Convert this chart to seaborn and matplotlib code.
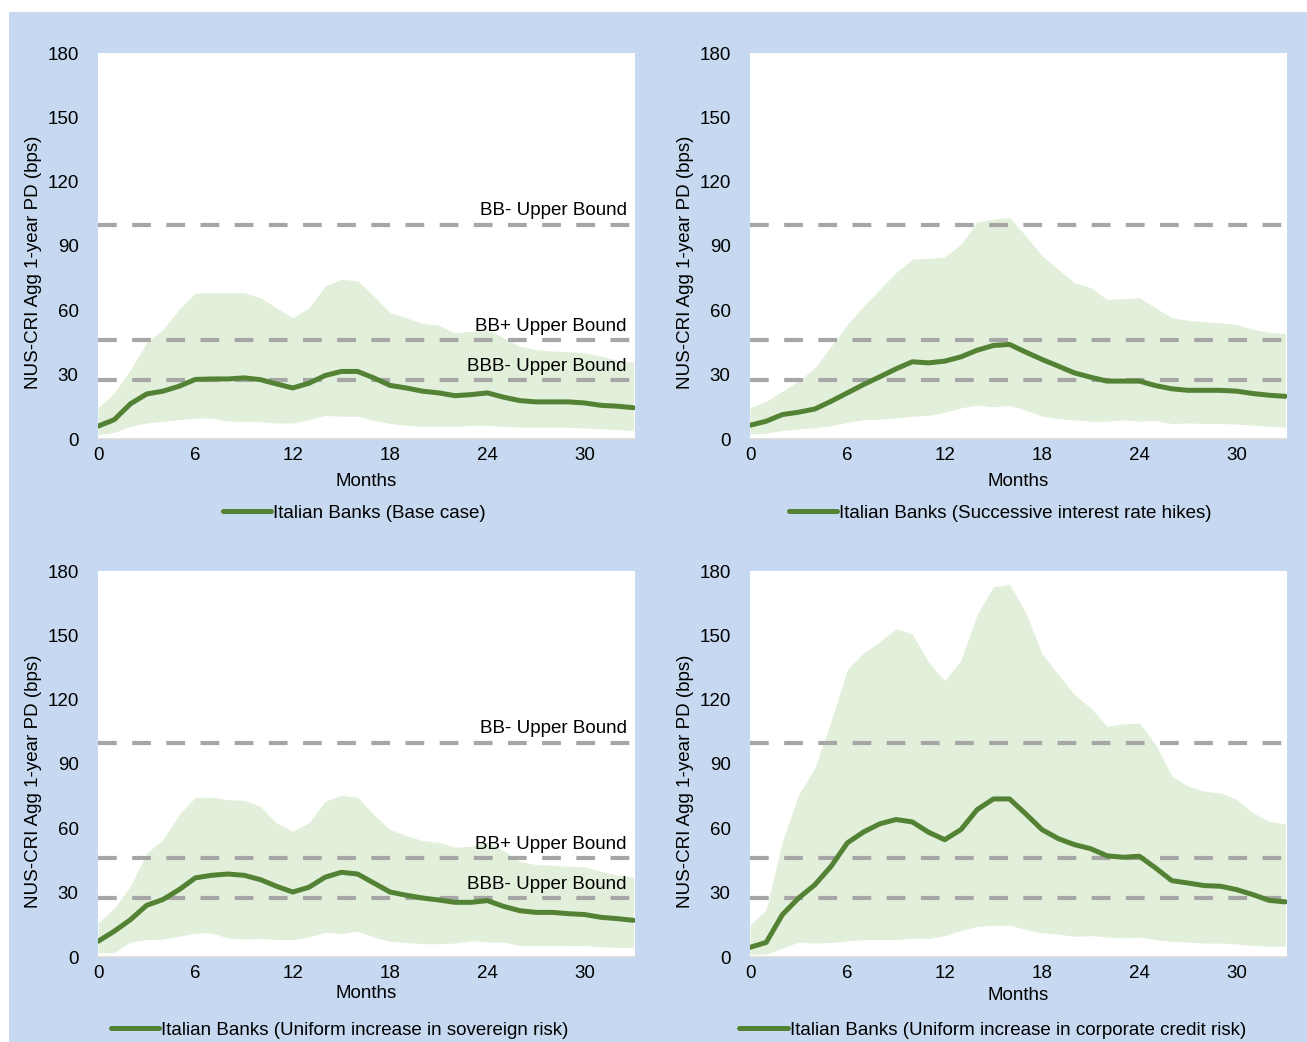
import numpy as np
import pandas as pd
import seaborn as sns
import matplotlib.pyplot as plt
from matplotlib.patches import Rectangle

# --- data, months 0..33
months = list(range(34))

base_mid = [6, 9, 16.4, 21, 22.3, 24.6, 27.8, 28, 28, 28.5, 27.7, 25.7, 23.8, 26, 29.6, 31.5, 31.5,
            28.5, 25, 23.8, 22.3, 21.5, 20.2, 20.7, 21.5, 19.5, 17.9, 17.3, 17.3, 17.3, 16.8, 15.7, 15.3, 14.6]
base_hi = [14.5, 21.5, 32.4, 44.9, 51, 60.4, 68, 68.2, 68.2, 68.2, 65.9, 61.2, 56.5, 61.2, 71.3, 74.5, 73.7,
           66.7, 58.9, 56.5, 53.9, 53.1, 49.5, 50.3, 51, 47.2, 43.3, 41.7, 41, 40.7, 40.2, 38.6, 36.8, 35.8]
base_lo = [2, 3.1, 5.9, 7.5, 8.3, 9, 9.8, 9.8, 8.3, 8.3, 8, 7.5, 7.5, 9, 11, 10.6, 10.6,
           8.7, 7.2, 6.4, 5.9, 5.9, 5.9, 6.4, 6.4, 5.9, 5.5, 5.5, 5.5, 5.5, 5.1, 4.7, 4.4, 4]

rate_mid = [6.4, 8.3, 11.4, 12.5, 14, 17.6, 21.5, 25.4, 29, 32.7, 36, 35.5, 36.3, 38.3, 41.4, 43.6, 44.1,
            40.5, 37.1, 34, 30.8, 28.8, 27, 27, 27, 24.9, 23.4, 22.7, 22.7, 22.7, 22.3, 21.2, 20.4, 19.9]
rate_hi = [14.5, 17.6, 22.3, 27, 33.2, 43.3, 53.4, 62, 69.8, 77.6, 83.8, 84.3, 84.9, 90.8, 101.2, 102.5, 103.3,
           94.7, 85.4, 79.1, 72.9, 70.6, 65.1, 65.4, 65.9, 61.2, 56.5, 55.3, 54.7, 54.2, 53.4, 51.1, 49.8, 49.2]
rate_lo = [2.3, 2.8, 4, 4.7, 5.3, 6.2, 7.8, 9, 9.3, 9.8, 10.6, 11, 12.5, 14.5, 15.9, 15, 15.7,
           13.4, 10.6, 9.5, 9, 8.3, 8.3, 9, 8.3, 8.6, 7.2, 7.5, 7.2, 7.2, 7, 6.4, 5.9, 5.5]

sov_mid = [7.3, 12, 17.4, 24.1, 26.8, 31.4, 36.9, 38.1, 38.7, 38.1, 36.1, 33, 30.3, 32.5, 37.2, 39.5, 38.7,
           34.5, 30.3, 28.8, 27.5, 26.6, 25.5, 25.5, 26.3, 23.6, 21.6, 20.8, 20.8, 20.2, 19.8, 18.5, 17.9, 17.1]
sov_hi = [15.9, 22.9, 33, 48.5, 54.7, 66.4, 74.5, 74.5, 73.3, 73.1, 70.3, 62.5, 58.6, 62.5, 72.6, 75.4, 74.5,
          66.4, 59.4, 56.6, 54.3, 53.5, 51.2, 51.6, 53.7, 49.6, 44.6, 43.1, 42.8, 42.3, 42, 40, 38.1, 37.3]
sov_lo = [1.9, 2.2, 7, 8.1, 8.4, 9.6, 11.2, 11.2, 8.9, 8.4, 8.6, 8.1, 8.1, 9.3, 11.5, 10.9, 12,
          9.3, 7.3, 6.8, 6.2, 6.2, 6.5, 7.6, 7, 7, 5.4, 5.4, 5.4, 5.4, 5.3, 4.7, 4.5, 4.5]

corp_mid = [4.5, 6.8, 19.8, 27.5, 33.7, 42.3, 53.2, 58.3, 62.1, 64.1, 63, 58.2, 54.7, 59.4, 68.7, 73.7, 73.7,
            66.7, 59.4, 55.2, 52.4, 50.5, 47.2, 46.5, 47, 41.5, 35.6, 34.5, 33.3, 33, 31.4, 29.1, 26.4, 25.7]
corp_hi = [14.8, 22.1, 54, 75.7, 88.2, 110, 134, 141.8, 147, 153.1, 150.7, 137.6, 128.9, 138.3, 159.7, 172.7, 173.8,
           160.5, 141.4, 131.7, 122.4, 116.2, 107.6, 108.7, 109.2, 99.1, 84.3, 79.7, 77.3, 76.5, 73.4, 67.2, 63.3, 62.1]
corp_lo = [1.1, 1.4, 4.2, 7, 6.5, 6.8, 7.6, 8.1, 8.1, 8.1, 8.9, 8.6, 10, 12.3, 14.3, 14.8, 14.8,
           12.8, 11.2, 10.7, 9.6, 10, 9.3, 8.9, 9.3, 8.1, 7.3, 7, 6.5, 6.5, 6.1, 5.4, 5, 5]

scenarios = ["Italian Banks (Base case)",
             "Italian Banks (Successive interest rate hikes)",
             "Italian Banks (Uniform increase in sovereign risk)",
             "Italian Banks (Uniform increase in corporate credit risk)"]

bound_values = [100, 46, 27.5]
bound_labels = ["BB- Upper Bound", "BB+ Upper Bound", "BBB- Upper Bound"]

sns.set_style("white")
plt.rcParams["font.family"] = ["Liberation Sans", "DejaVu Sans"]
plt.rcParams["text.color"] = "black"
plt.rcParams["axes.labelcolor"] = "black"
plt.rcParams["xtick.color"] = "black"
plt.rcParams["ytick.color"] = "black"

GREEN = "#548235"
FILL = "#e2efda"
GREY = "#a6a6a6"
BG = "#c6d9f0"
FS = 13.5

fig = plt.figure(figsize=(13.07, 10.42), dpi=100)
fig.patch.set_facecolor("white")
fig.patches.append(Rectangle((9 / 1307, 0), 1, 1 - 12 / 1042, transform=fig.transFigure,
                             facecolor=BG, edgecolor="none", zorder=-10))

# axes positions in pixels: left, top, right, bottom
boxes = [(98, 53, 635, 439), (750, 53, 1287, 439), (98, 571, 635, 957), (750, 571, 1287, 957)]
legend_x = [0.477, 0.466, 0.45, 0.452]
legend_y = [-0.192, -0.192, -0.189, -0.189]
xlabel_pad = [6, 6, 2, 3]
ylabel_y = [0.459, 0.459, 0.456, 0.456]
data = [(base_mid, base_hi, base_lo), (rate_mid, rate_hi, rate_lo),
        (sov_mid, sov_hi, sov_lo), (corp_mid, corp_hi, corp_lo)]

for i, (mid, hi, lo) in enumerate(data):
    l, t, r, b = boxes[i]
    ax = fig.add_axes([l / 1307, 1 - b / 1042, (r - l) / 1307, (b - t) / 1042])
    ax.set_facecolor("white")
    df = pd.DataFrame({"Months": months, "PD": mid, "hi": hi, "lo": lo})

    ax.fill_between(df["Months"], df["lo"], df["hi"], color=FILL, lw=0, zorder=1)
    for v in bound_values:
        ax.axhline(v, color=GREY, lw=3, dashes=(4.5, 3.7), zorder=2)
    sns.lineplot(data=df, x="Months", y="PD", ax=ax, color=GREEN, lw=3.6,
                 label=scenarios[i], zorder=3)

    if i in (0, 2):
        for v, s in zip(bound_values, bound_labels):
            ax.text(32.6, v + 2.5, s, ha="right", va="bottom", fontsize=FS, zorder=4)

    ax.set_xlim(0, 33.1)
    ax.set_ylim(0, 180)
    ax.set_xticks(range(0, 31, 6))
    ax.set_yticks(range(0, 181, 30))
    ax.tick_params(axis="y", length=0, pad=14, labelsize=FS)
    ax.tick_params(axis="x", length=0, pad=6, labelsize=FS)
    for side in ("top", "right", "left"):
        ax.spines[side].set_visible(False)
    ax.spines["bottom"].set_color("#d9d9d9")
    ax.spines["bottom"].set_linewidth(1.2)
    ax.set_xlabel("Months", fontsize=FS, labelpad=xlabel_pad[i])
    ax.set_ylabel("NUS-CRI Agg 1-year PD (bps)", fontsize=FS)
    ax.yaxis.set_label_coords(-0.104, ylabel_y[i])

    ax.legend(loc="center", bbox_to_anchor=(legend_x[i], legend_y[i]), frameon=False,
              fontsize=FS, handlelength=2.6, handletextpad=0.1)

fig.savefig("out.png", dpi=100, facecolor=fig.get_facecolor())
